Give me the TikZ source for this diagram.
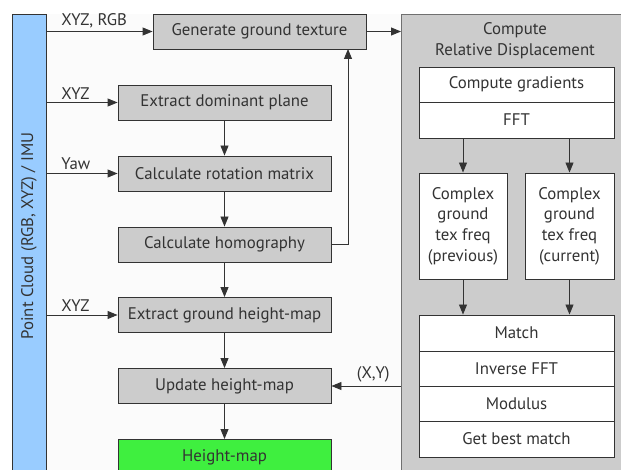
\documentclass[tikz,border=0pt]{standalone}
\usepackage{fontspec}
\setmainfont{PT Sans}
\usetikzlibrary{arrows.meta}
\definecolor{bgc}{HTML}{FBFBFB}
\definecolor{bluec}{HTML}{99CCFF}
\definecolor{grayc}{HTML}{CCCCCC}
\definecolor{greenc}{HTML}{3FEF3F}
\definecolor{txt}{HTML}{333333}
\definecolor{edge}{HTML}{333333}
\tikzset{
  box/.style={draw=edge, line width=0.9pt, fill=grayc, text=txt, inner sep=0pt, font=\fontsize{16.8}{20.7}\selectfont, align=center},
  wbox/.style={box, fill=white},
  lbl/.style={text=txt, font=\fontsize{16.8}{20.7}\selectfont, inner sep=0pt},
  arr/.style={draw=edge, line width=0.9pt, -{Triangle[length=10pt,width=8pt]}},
  ln/.style={draw=edge, line width=0.9pt}
}
\begin{document}
\begin{tikzpicture}[x=1pt,y=-1pt]
\useasboundingbox (0,0) rectangle (621,470);
\begin{scope}
\clip (0,0) rectangle (621,470);
\fill[bgc] (12,14) rectangle (630,480);
% blue bar
\node[box, fill=bluec, minimum width=34pt, minimum height=470pt, anchor=north west] (bar) at (12,14) {};
\node[lbl, rotate=90] (bartxt) at (29,236) {Point Cloud (RGB, XYZ) / IMU};
% right panel
\node[box, draw=edge!70, minimum width=230pt, minimum height=470pt, anchor=north west] (panel) at (401,14) {};
\node[lbl, align=center] (ptitle) at (515,41) {Compute\\Relative Displacement};
% left column
\node[box, minimum width=213pt, minimum height=35pt] (gen) at (259.5,31.5) {Generate ground texture};
\node[box, minimum width=213pt, minimum height=35pt] (edp) at (224.5,102.5) {Extract dominant plane};
\node[box, minimum width=213pt, minimum height=35pt] (crm) at (224.5,173.5) {Calculate rotation matrix};
\node[box, minimum width=213pt, minimum height=35pt] (ch) at (224.5,244.5) {Calculate homography};
\node[box, minimum width=213pt, minimum height=35pt] (egh) at (224.5,315) {Extract ground height-map};
\node[box, minimum width=213pt, minimum height=35pt] (uh) at (224.5,386) {Update height-map};
\node[box, fill=greenc, minimum width=213pt, minimum height=36pt, anchor=north] (hm) at (224.5,439) {Height-map};
% right inner
\node[wbox, minimum width=195pt, minimum height=35pt] (cg) at (516.5,84.5) {Compute gradients};
\node[wbox, minimum width=195pt, minimum height=36pt] (fft) at (516.5,120) {FFT};
\node[wbox, minimum width=88pt, minimum height=106pt] (c1) at (463,226) {Complex\\ground\\tex freq\\(previous)};
\node[wbox, minimum width=89pt, minimum height=106pt] (c2) at (569.5,226) {Complex\\ground\\tex freq\\(current)};
\node[wbox, minimum width=195pt, minimum height=36pt] (match) at (516.5,333) {Match};
\node[wbox, minimum width=195pt, minimum height=35pt] (ifft) at (516.5,368.5) {Inverse FFT};
\node[wbox, minimum width=195pt, minimum height=35pt] (mod) at (516.5,403.5) {Modulus};
\node[wbox, minimum width=195pt, minimum height=36pt] (best) at (516.5,439) {Get best match};
% inputs
\draw[arr] (bar.east |- gen.west) -- node[lbl, pos=0, anchor=south west, xshift=14pt, yshift=3pt] (l1) {XYZ, RGB} (gen.west);
\draw[arr] (bar.east |- edp.west) -- node[lbl, pos=0, anchor=south west, xshift=14pt, yshift=3pt] (l2) {XYZ} (edp.west);
\draw[arr] (bar.east |- crm.west) -- node[lbl, pos=0, anchor=south west, xshift=14pt, yshift=3pt] (l3) {Yaw} (crm.west);
\draw[arr] (bar.east |- egh.west) -- node[lbl, pos=0, anchor=south west, xshift=14pt, yshift=3pt] (l4) {XYZ} (egh.west);
% vertical chain
\draw[arr] (edp) -- (crm);
\draw[arr] (crm) -- (ch);
\draw[arr] (ch) -- (egh);
\draw[arr] (egh) -- (uh);
\draw[arr] (uh) -- (hm);
\coordinate (up) at (348,49);
\draw[arr] (ch.east) -| (up);
\draw[arr] (gen.east) -- (panel.west |- gen.east);
% inner arrows
\draw[arr] (fft.south -| c1) -- (c1.north);
\draw[arr] (fft.south -| c2) -- (c2.north);
\draw[arr] (c1.south) -- (match.north -| c1);
\draw[arr] (c2.south) -- (match.north -| c2);
\draw[arr] (panel.west |- uh.east) -- node[lbl, anchor=south, yshift=3pt, xshift=7pt] (lxy) {(X,Y)} (uh.east);
\end{scope}
\end{tikzpicture}
\end{document}
